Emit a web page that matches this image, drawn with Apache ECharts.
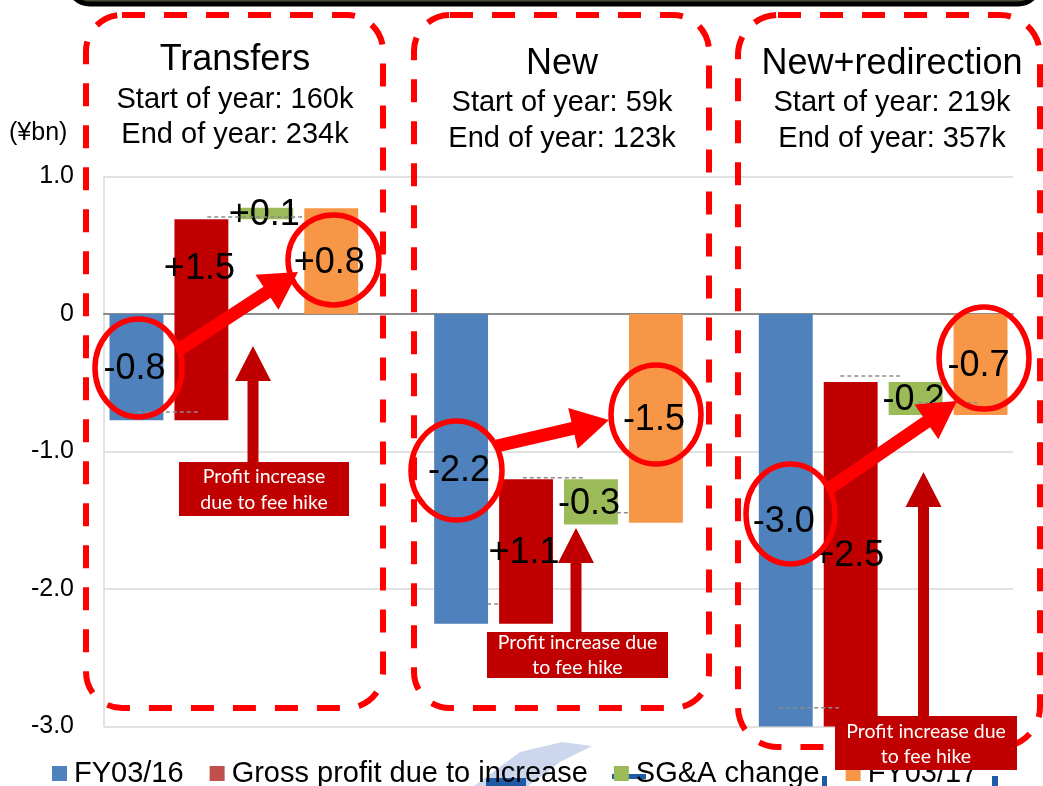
<!DOCTYPE html>
<html>
<head>
<meta charset="utf-8">
<script src="https://cdn.jsdelivr.net/npm/echarts@6/dist/echarts.min.js"></script>
<style>
  html, body { margin: 0; padding: 0; background: #fff; }
  #chart { width: 1043px; height: 786px; }
</style>
</head>
<body>
<div id="chart"></div>
<script>
// slots on the category axis: three groups of four bars, one empty slot between groups
const slots = ['T-FY16', 'T-GP', 'T-SGA', 'T-FY17', 'gap1',
  'N-FY16', 'N-GP', 'N-SGA', 'N-FY17', 'gap2',
  'R-FY16', 'R-GP', 'R-SGA', 'R-FY17']
const groupFirstSlot = [0, 5, 10]

const groupTitles = ['Transfers', 'New', 'New+redirection']
const startOfYear = ['Start of year: 160k', 'Start of year: 59k', 'Start of year: 219k']
const endOfYear = ['End of year: 234k', 'End of year: 123k', 'End of year: 357k']

// ¥bn
const fy16 = [-0.773, -2.252, -3.0]
const grossProfit = [1.462, 1.05, 2.505]
const sgaChange = [0.084, -0.328, -0.24]
const fy17 = [0.769, -1.518, -0.735]

const fy16Labels = ['-0.8', '-2.2', '-3.0']
const grossProfitLabels = ['+1.5', '+1.1', '+2.5']
const sgaLabels = ['+0.1', '-0.3', '-0.2']
const fy17Labels = ['+0.8', '-1.5', '-0.7']

// grey dashed level lines (slot units, value)
const connFrom = [0.02, 1.09, 5.4, 5.95, 7.4, 9.9, 10.84, 12.04]
const connTo = [0.95, 2.6, 5.6, 6.88, 7.6, 10.82, 11.76, 12.95]
const connLevel = [-0.713, 0.705, -2.109, -1.19, -1.445, -2.863, -0.451, -0.645]

const yTicks = [-3, -2, -1, 0, 1]

const FONT = '"Liberation Sans", Arial, sans-serif'

const fy16Data = fy16.map((v, g) => [groupFirstSlot[g], 0, v])
const gpData = fy16.map((v, g) => [groupFirstSlot[g] + 1, v, v + grossProfit[g]])
const sgaData = fy16.map((v, g) => [groupFirstSlot[g] + 2, v + grossProfit[g], v + grossProfit[g] + sgaChange[g]])
const fy17Data = fy17.map((v, g) => [groupFirstSlot[g] + 3, 0, v])

function barRenderer(fill, labels) {
  return (params, api) => {
    const slot = api.value(0)
    const a = api.value(1)
    const b = api.value(2)
    const lo = Math.min(a, b)
    const hi = Math.max(a, b)
    const top = api.coord([slot, hi])
    const bot = api.coord([slot, lo])
    const w = api.size([1, 0])[0] * 0.83
    // excel puts the label on the positive piece when a bar crosses zero
    const mid = (lo < 0 && hi > 0) ? hi / 2 : (lo + hi) / 2
    const lp = api.coord([slot, mid])
    return {
      type: 'group',
      children: [
        {
          type: 'rect',
          shape: { x: top[0] - w / 2, y: top[1], width: w, height: bot[1] - top[1] },
          style: { fill: fill }
        },
        {
          type: 'text',
          x: lp[0] - 2,
          y: lp[1] + 2,
          z2: 20,
          style: {
            text: labels[params.dataIndex],
            fill: '#000',
            font: '36px ' + FONT,
            align: 'center',
            verticalAlign: 'middle'
          }
        }
      ]
    }
  }
}

function connRenderer(params, api) {
  const i = params.dataIndex
  const level = connLevel[i]
  const bw = api.size([1, 0])[0]
  const s1 = Math.floor(connFrom[i])
  const s2 = Math.floor(connTo[i])
  const p1 = api.coord([s1, level])
  const p2 = api.coord([s2, level])
  return {
    type: 'line',
    z2: 15,
    shape: {
      x1: p1[0] + (connFrom[i] - s1) * bw, y1: p1[1],
      x2: p2[0] + (connTo[i] - s2) * bw, y2: p2[1]
    },
    style: { stroke: '#8c8c8c', lineWidth: 1.5, lineDash: [4, 3] }
  }
}

// arrow polygon from (x1,y1) to tip (x2,y2)
function arrowPoints(x1, y1, x2, y2, shaft, headLen, headW) {
  const dx = x2 - x1, dy = y2 - y1
  const len = Math.sqrt(dx * dx + dy * dy)
  const ux = dx / len, uy = dy / len
  const nx = -uy, ny = ux
  const bx = x2 - ux * headLen, by = y2 - uy * headLen
  const s = shaft / 2, h = headW / 2
  return [
    [x1 + nx * s, y1 + ny * s],
    [bx + nx * s, by + ny * s],
    [bx + nx * h, by + ny * h],
    [x2, y2],
    [bx - nx * h, by - ny * h],
    [bx - nx * s, by - ny * s],
    [x1 - nx * s, y1 - ny * s]
  ]
}

const dashBox = (x, y, w, h, r) => ({
  type: 'rect', z: 50,
  shape: { x: x, y: y, width: w, height: h, r: r },
  style: { fill: 'none', stroke: '#ff0000', lineWidth: 6, lineDash: [23, 19] }
})
const ring = (cx, cy, rx, ry) => ({
  type: 'ellipse', z: 60,
  shape: { cx: cx, cy: cy, rx: rx, ry: ry },
  style: { fill: 'none', stroke: '#ff0000', lineWidth: 5.5 }
})
const redArrow = (x1, y1, x2, y2) => ({
  type: 'polygon', z: 61,
  shape: { points: arrowPoints(x1, y1, x2, y2, 13, 37, 42) },
  style: { fill: '#ff0000' }
})
const upArrow = (x, yBottom, yTip) => ({
  type: 'polygon', z: 61,
  shape: { points: arrowPoints(x, yBottom, x, yTip, 11, 35, 36) },
  style: { fill: '#c00000' }
})
const noteBox = (x, y, w, h, lines, lineYs) => ({
  type: 'group', z: 70,
  children: [
    { type: 'rect', z: 70, shape: { x: x, y: y, width: w, height: h }, style: { fill: '#c00000' } }
  ].concat(lines.map((t, i) => ({
    type: 'text', z: 71, x: x + w / 2, y: lineYs[i],
    style: { text: t, fill: '#fff', font: '19.5px Lato, sans-serif', align: 'center', verticalAlign: 'middle' }
  })))
})
const headText = (x, y, text, size) => ({
  type: 'text', z: 40, x: x, y: y,
  style: { text: text, fill: '#000', font: size + 'px ' + FONT, align: 'center', verticalAlign: 'middle' }
})

const titleX = [235, 562, 892]
const titleY = [60, 64, 64]
const line2Y = [100, 103, 103]
const line3Y = [135, 139, 139]
const headers = []
groupTitles.forEach((t, g) => {
  headers.push(headText(titleX[g], titleY[g], t, 36))
  headers.push(headText(titleX[g], line2Y[g], startOfYear[g], 29))
  headers.push(headText(titleX[g], line3Y[g], endOfYear[g], 29))
})

const option = {
  animation: false,
  backgroundColor: '#fff',
  grid: { left: 104, right: 30, top: 176.5, bottom: 59.5 },
  legend: {
    data: ['FY03/16', 'Gross profit due to increase', 'SG&A change', 'FY03/17'],
    left: 52,
    top: 759,
    icon: 'rect',
    itemWidth: 15,
    itemHeight: 15,
    itemGap: 26,
    padding: 0,
    textStyle: { fontSize: 29, color: '#000', fontFamily: FONT, padding: [0, 0, 0, 2] }
  },
  xAxis: {
    type: 'category',
    data: slots,
    axisLine: { onZero: true, lineStyle: { color: '#8c8c8c', width: 2 } },
    axisTick: { show: false },
    axisLabel: { show: false },
    splitLine: { show: false }
  },
  yAxis: {
    type: 'value',
    min: yTicks[0],
    max: yTicks[yTicks.length - 1],
    interval: 1,
    axisLine: { show: true, lineStyle: { color: '#d9d9d9', width: 1.5 } },
    axisTick: { show: false },
    axisLabel: {
      fontSize: 25, color: '#000', fontFamily: FONT, margin: 30,
      formatter: v => (v === 0 ? '0' : v.toFixed(1))
    },
    splitLine: { lineStyle: { color: '#d9d9d9', width: 1.5 } }
  },
  series: [
    {
      name: 'FY03/16', type: 'custom', itemStyle: { color: '#4f81bd' },
      encode: { x: 0, y: [1, 2] }, data: fy16Data,
      renderItem: barRenderer('#4f81bd', fy16Labels)
    },
    {
      name: 'Gross profit due to increase', type: 'custom', itemStyle: { color: '#c0504d' },
      encode: { x: 0, y: [1, 2] }, data: gpData,
      renderItem: barRenderer('#c00000', grossProfitLabels)
    },
    {
      name: 'SG&A change', type: 'custom', itemStyle: { color: '#9bbb59' },
      encode: { x: 0, y: [1, 2] }, data: sgaData,
      renderItem: barRenderer('#9bbb59', sgaLabels)
    },
    {
      name: 'FY03/17', type: 'custom', itemStyle: { color: '#f79646' },
      encode: { x: 0, y: [1, 2] }, data: fy17Data,
      renderItem: barRenderer('#f79646', fy17Labels)
    },
    {
      name: 'levels', type: 'custom', z: 3,
      encode: { x: 0, y: 1 },
      data: connLevel.map((v, i) => [i, v]),
      renderItem: connRenderer
    }
  ],
  graphic: [
    // frame of the box above the chart
    {
      type: 'rect', z: 40,
      shape: { x: 68, y: -60, width: 972, height: 64, r: 22 },
      style: { fill: '#4d4a35', stroke: '#000', lineWidth: 5 }
    },
    // faint logo behind the legend
    {
      type: 'polygon', z: 1,
      shape: { points: [[474, 786], [520, 752], [562, 742], [592, 746], [560, 762], [528, 786]] },
      style: { fill: 'rgba(110,140,205,0.35)' }
    },
    { type: 'rect', z: 1, shape: { x: 486, y: 778, width: 40, height: 8 }, style: { fill: '#1f5aa6' } },
    { type: 'rect', z: 1, shape: { x: 612, y: 774, width: 34, height: 5 }, style: { fill: '#1f5aa6' } },
    { type: 'rect', z: 1, shape: { x: 822, y: 776, width: 5, height: 10 }, style: { fill: '#1f5aa6' } },
    { type: 'rect', z: 1, shape: { x: 992, y: 776, width: 6, height: 10 }, style: { fill: '#1f5aa6' } },
    {
      type: 'text', z: 40, x: 9, y: 133,
      style: { text: '(¥bn)', fill: '#000', font: '25px ' + FONT, align: 'left', verticalAlign: 'middle' }
    }
  ].concat(headers, [
    dashBox(86, 15, 297, 693, 36),
    dashBox(414, 15, 295, 693, 36),
    dashBox(738, 15, 302, 732, 40),
    ring(138.5, 368, 43.5, 49),
    ring(333.5, 260, 45.5, 45),
    ring(456.5, 470.5, 45.5, 49.5),
    ring(656, 414.5, 45, 49.5),
    ring(790.5, 514, 44.5, 50),
    ring(984, 358, 45, 51),
    redArrow(180, 349, 298, 272),
    redArrow(497, 446, 609, 420),
    redArrow(830, 488, 957, 401),
    upArrow(253, 462, 346),
    upArrow(576, 632, 528),
    upArrow(923.5, 716, 472),
    noteBox(179, 462, 170, 54, ['Profit increase', 'due to fee hike'], [477, 503]),
    noteBox(487, 632, 181, 46, ['Profit increase due', 'to fee hike'], [643, 668]),
    noteBox(835, 716, 182, 54, ['Profit increase due', 'to fee hike'], [732, 757])
  ])
}

const chart = echarts.init(document.getElementById('chart'))
chart.setOption(option)
</script>
</body>
</html>
